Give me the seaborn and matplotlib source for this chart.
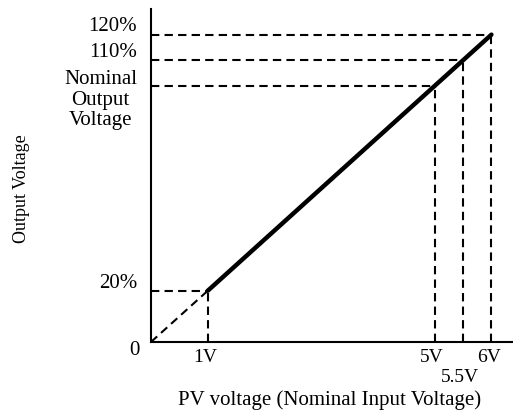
"""Output voltage vs. PV input voltage, with the 1V / 5V / 5.5V / 6V guides."""

import matplotlib

matplotlib.use("Agg")

import matplotlib.pyplot as plt
import seaborn as sns

# Operating points
input_v = [1, 5, 5.5, 6]
output_pct = [20, 100, 110, 120]
x_labels = ["1V", "5V", "5.5V", "6V"]
y_labels = ["20%", "Nominal\nOutput\nVoltage", "110%", "120%"]
origin_label = "0"

x_title = "PV voltage (Nominal Input Voltage)"
y_title = "Output Voltage"

DASH = (0, (4, 2.5))
LINE_STEP = 15.2  # points between stacked label lines


def main() -> None:
    sns.set_theme(style="white")
    plt.rcParams["font.family"] = ["Liberation Serif", "DejaVu Serif"]

    fig = plt.figure(figsize=(5.13, 4.14), dpi=100)
    ax = fig.add_axes([0.2943, 0.1715, 0.7057, 0.8043])

    # guides from the axes to each operating point
    ax.hlines(output_pct, 0, input_v, colors="black", lw=1.5, linestyles=DASH)
    ax.vlines(input_v, 0, output_pct, colors="black", lw=1.5, linestyles=DASH)
    ax.plot([0, input_v[0]], [0, output_pct[0]], color="black", lw=1.5, ls=DASH)

    sns.lineplot(x=input_v, y=output_pct, color="black", lw=3.2, ax=ax)

    ax.set_xlim(0, 6.38)
    ax.set_ylim(0, 130)
    ax.set_xticks([])
    ax.set_yticks([])
    for side in ("top", "right"):
        ax.spines[side].set_visible(False)
    for side in ("left", "bottom"):
        ax.spines[side].set_color("black")
        ax.spines[side].set_linewidth(1.5)

    ytrans = ax.get_yaxis_transform()
    xtrans = ax.get_xaxis_transform()

    # first line of each label sits just above its guide
    for y, lab in zip(output_pct, y_labels):
        extra = lab.count("\n")
        ax.annotate(lab, xy=(0, y), xycoords=ytrans,
                    xytext=(-10, 3 - extra * LINE_STEP),
                    textcoords="offset points", ha="right", va="baseline",
                    multialignment="center", fontsize=15, color="black",
                    linespacing=1.1)
    ax.annotate(origin_label, xy=(0, 0), xycoords=ytrans, xytext=(-8, -9),
                textcoords="offset points", ha="right", va="baseline",
                fontsize=15, color="black")

    # stagger x labels that sit too close together
    prev_x, prev_row = None, 0
    for x, lab in zip(input_v, x_labels):
        row = 1 if prev_x is not None and x - prev_x < 0.6 and prev_row == 0 else 0
        ax.annotate(lab, xy=(x, 0), xycoords=xtrans, xytext=(-2, -14 - 14 * row),
                    textcoords="offset points", ha="center", va="baseline",
                    fontsize=14, color="black")
        prev_x, prev_row = x, row

    ax.set_xlabel(x_title, fontsize=15, color="black")
    ax.xaxis.set_label_coords(0.494, -0.142)
    ax.set_ylabel(y_title, fontsize=13, color="black")
    ax.yaxis.set_label_coords(-0.335, 0.465)

    fig.savefig("out.png", dpi=100)
    plt.close(fig)


if __name__ == "__main__":
    main()
